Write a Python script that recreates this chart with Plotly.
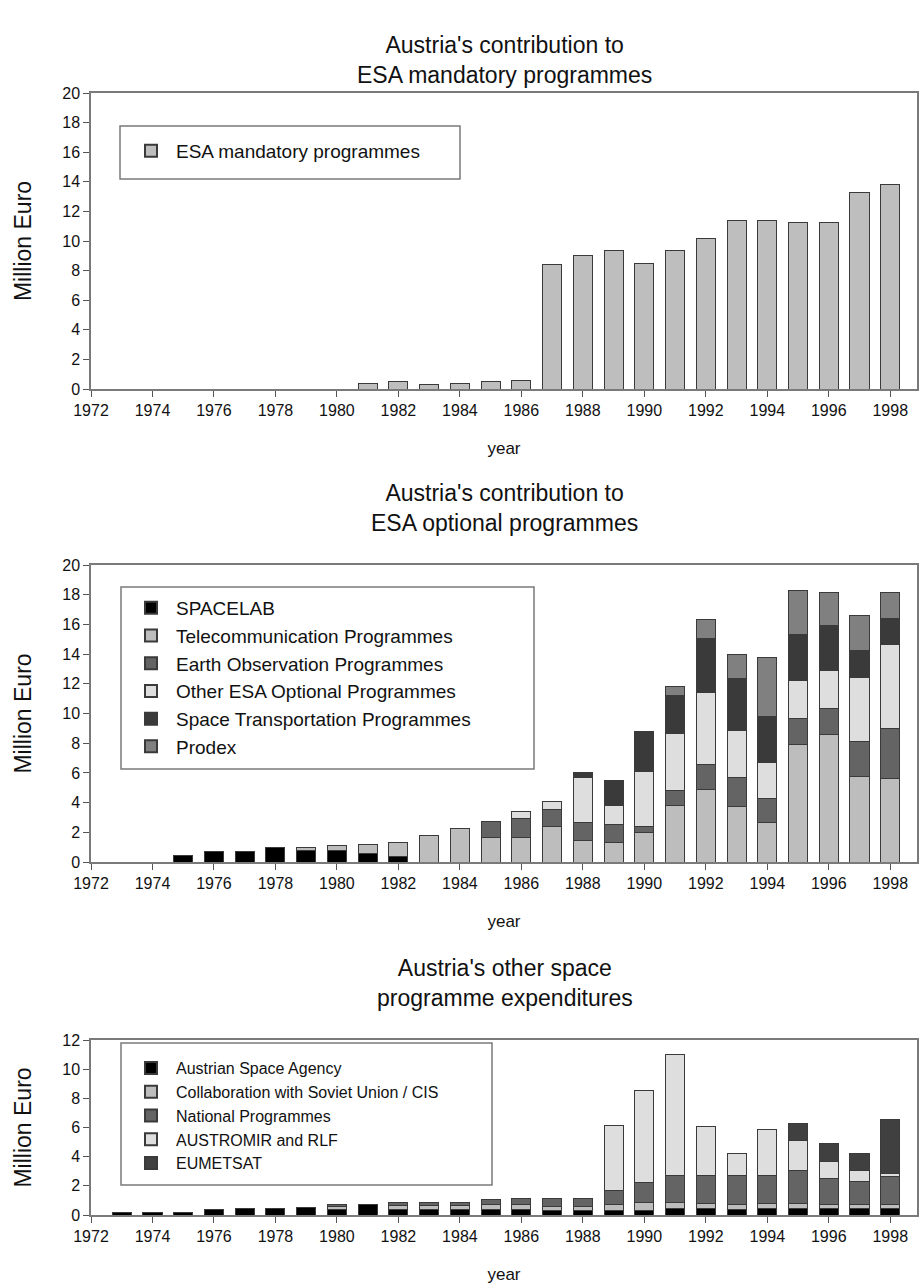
import plotly.graph_objects as go

# ---------------- data ----------------
years = list(range(1972, 1999))

# Chart 1: ESA mandatory programmes (Million Euro)
mandatory = [0, 0, 0, 0, 0, 0, 0, 0, 0,
             0.40, 0.48, 0.30, 0.40, 0.52, 0.55,
             8.40, 9.05, 9.35, 8.45, 9.35, 10.15, 11.38, 11.38, 11.24, 11.24, 13.27, 13.80]

# Chart 2: ESA optional programmes
spacelab = [0, 0, 0, 0.42, 0.74, 0.74, 1.00, 0.80, 0.76, 0.60, 0.34, 0, 0, 0, 0,
            0, 0, 0, 0, 0, 0, 0, 0, 0, 0, 0, 0]
telecom = [0, 0, 0, 0, 0, 0, 0, 0.20, 0.32, 0.56, 1.00, 1.76, 2.28, 1.62, 1.68,
           2.36, 1.42, 1.30, 1.98, 3.82, 4.88, 3.75, 2.65, 7.91, 8.60, 5.75, 5.62]
earth_obs = [0, 0, 0, 0, 0, 0, 0, 0, 0, 0, 0, 0, 0, 1.14, 1.23,
             1.17, 1.26, 1.22, 0.38, 1.01, 1.66, 1.96, 1.60, 1.73, 1.73, 2.38, 3.35]
other_esa = [0, 0, 0, 0, 0, 0, 0, 0, 0, 0, 0, 0, 0, 0, 0.50,
             0.56, 3.02, 1.26, 3.71, 3.82, 4.88, 3.14, 2.47, 2.56, 2.58, 4.32, 5.68]
space_transport = [0, 0, 0, 0, 0, 0, 0, 0, 0, 0, 0, 0, 0, 0, 0,
                   0, 0.35, 1.68, 2.74, 2.59, 3.64, 3.51, 3.08, 3.13, 3.04, 1.77, 1.75]
prodex = [0, 0, 0, 0, 0, 0, 0, 0, 0, 0, 0, 0, 0, 0, 0,
          0, 0, 0, 0, 0.56, 1.30, 1.60, 3.95, 2.92, 2.17, 2.41, 1.73]

# Chart 3: other space programme expenditures
asa = [0, 0.15, 0.17, 0.20, 0.40, 0.45, 0.45, 0.50, 0.40, 0.70, 0.40, 0.40, 0.40, 0.40, 0.35,
       0.30, 0.30, 0.34, 0.34, 0.46, 0.46, 0.41, 0.46, 0.46, 0.46, 0.46, 0.46]
collab = [0, 0, 0, 0, 0, 0, 0, 0, 0.15, 0, 0.22, 0.22, 0.22, 0.30, 0.38,
          0.27, 0.27, 0.35, 0.51, 0.39, 0.34, 0.28, 0.34, 0.34, 0.23, 0.23, 0.23]
national = [0, 0, 0, 0, 0, 0, 0, 0, 0.18, 0, 0.23, 0.23, 0.23, 0.37, 0.41,
            0.57, 0.55, 0.96, 1.37, 1.89, 1.94, 2.05, 1.94, 2.22, 1.78, 1.64, 1.94]
austromir = [0, 0, 0, 0, 0, 0, 0, 0, 0, 0, 0, 0, 0, 0, 0,
             0, 0, 4.52, 6.35, 8.30, 3.32, 1.49, 3.09, 2.08, 1.23, 0.71, 0.23]
eumetsat = [0, 0, 0, 0, 0, 0, 0, 0, 0, 0, 0, 0, 0, 0, 0,
            0, 0, 0, 0, 0, 0, 0, 0, 1.19, 1.21, 1.19, 3.72]

titles = ["Austria's contribution to<br>ESA mandatory programmes",
          "Austria's contribution to<br>ESA optional programmes",
          "Austria's other space<br>programme expenditures"]

# ---------------- layout helpers ----------------
W, H = 919, 1285
FONT = "Liberation Sans, Arial, sans-serif"
def px_x(x):
    return x / W
def px_y(y):
    return 1 - y / H

XL, XR = 91, 917
panels = [(93, 389), (565, 862), (1040, 1215)]
OUTLINE = dict(color="#3a3a3a", width=1)
BW = 0.62

fig = go.Figure()

def add_bar(name, vals, color, xa, ya, legend):
    yv = [v if v else None for v in vals]   # no outline for empty years
    fig.add_trace(go.Bar(x=years, y=yv, name=name, marker=dict(color=color, line=OUTLINE),
                         width=BW, xaxis=xa, yaxis=ya, legend=legend))

add_bar("ESA mandatory programmes", mandatory, "#bebebe", "x", "y", "legend")

add_bar("SPACELAB", spacelab, "#000000", "x2", "y2", "legend2")
add_bar("Telecommunication Programmes", telecom, "#bdbdbd", "x2", "y2", "legend2")
add_bar("Earth Observation Programmes", earth_obs, "#646464", "x2", "y2", "legend2")
add_bar("Other ESA Optional Programmes", other_esa, "#dedede", "x2", "y2", "legend2")
add_bar("Space Transportation Programmes", space_transport, "#3a3a3a", "x2", "y2", "legend2")
add_bar("Prodex", prodex, "#808080", "x2", "y2", "legend2")

add_bar("Austrian Space Agency", asa, "#000000", "x3", "y3", "legend3")
add_bar("Collaboration with Soviet Union / CIS", collab, "#bdbdbd", "x3", "y3", "legend3")
add_bar("National Programmes", national, "#646464", "x3", "y3", "legend3")
add_bar("AUSTROMIR and RLF", austromir, "#dedede", "x3", "y3", "legend3")
add_bar("EUMETSAT", eumetsat, "#404040", "x3", "y3", "legend3")

axis_common = dict(showgrid=False, zeroline=False, showline=True, linecolor="#7a7a7a",
                   linewidth=1.5, mirror=True, ticks="outside", ticklen=6, tickwidth=1,
                   tickcolor="#555", automargin=False,
                   tickfont=dict(family=FONT, size=16, color="#111"))

layout = dict(template="none", width=W, height=H, margin=dict(l=0, r=0, t=0, b=0, pad=0),
              paper_bgcolor="white", plot_bgcolor="white", barmode="stack",
              font=dict(family=FONT, color="#111"), showlegend=True)

ymax = [20, 20, 12]
for i, (yt, yb) in enumerate(panels):
    sfx = "" if i == 0 else str(i + 1)
    layout["xaxis" + sfx] = dict(axis_common, domain=[px_x(XL), px_x(XR)], range=[1972, 1998.87],
                                 tickmode="linear", tick0=1972, dtick=2,
                                 anchor="y" + sfx,
                                 title=dict(text="year", font=dict(family=FONT, size=17), standoff=24))
    layout["yaxis" + sfx] = dict(axis_common, domain=[px_y(yb), px_y(yt)], range=[0, ymax[i]],
                                 tickmode="linear", tick0=0, dtick=2,
                                 anchor="x" + sfx,
                                 title=dict(text="Million Euro", font=dict(family=FONT, size=23), standoff=24))

leg_common = dict(bgcolor="rgba(0,0,0,0)", borderwidth=0, xanchor="left", yanchor="top",
                  traceorder="normal", itemsizing="constant", itemwidth=40)
layout["legend"] = dict(leg_common, x=px_x(126), y=px_y(132), font=dict(family=FONT, size=19))
layout["legend2"] = dict(leg_common, x=px_x(126), y=px_y(589), font=dict(family=FONT, size=19))
layout["legend3"] = dict(leg_common, x=px_x(126), y=px_y(1051), font=dict(family=FONT, size=16))

# legend frames
frames = [(120, 126, 460, 179), (121, 587, 534, 769), (121, 1043, 492, 1185)]
shapes = []
for (x0, y0, x1, y1) in frames:
    shapes.append(dict(type="rect", xref="paper", yref="paper",
                       x0=px_x(x0), x1=px_x(x1), y0=px_y(y1), y1=px_y(y0),
                       line=dict(color="#7a7a7a", width=1.5), fillcolor="rgba(0,0,0,0)"))
layout["shapes"] = shapes

title_y = [60, 508, 983]
layout["annotations"] = [dict(text=t, xref="paper", yref="paper", x=px_x(505), y=px_y(ty),
                              xanchor="center", yanchor="middle", showarrow=False,
                              font=dict(family=FONT, size=23, color="#111"))
                         for t, ty in zip(titles, title_y)]

fig.update_layout(layout)

fig.write_html("out.html", config={"displayModeBar": False},
               post_script="document.body.style.margin='0';")
